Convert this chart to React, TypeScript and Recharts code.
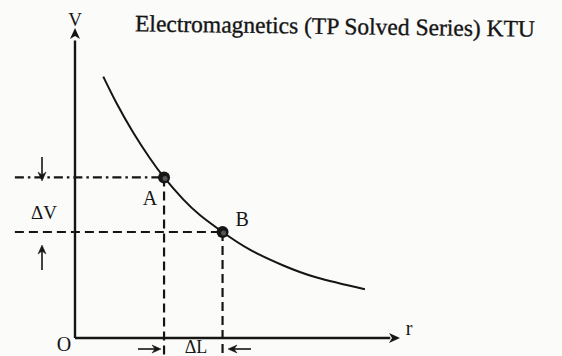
import React from "react";
import { ComposedChart, Line, XAxis, YAxis, ReferenceLine, ReferenceDot } from "recharts";

// curve V(r) (arbitrary units, r: 0..10, V: 0..10)
const curveR = [0.87, 1.28, 1.79, 2.31, 2.74, 3.33, 3.85, 4.54, 5.38, 6.41, 7.44, 8.92];
const curveV = [8.43, 7.57, 6.63, 5.79, 5.18, 4.47, 3.96, 3.42, 2.85, 2.34, 1.95, 1.57];

// marked points
const pointNames = ["A", "B"];
const pointR = [2.74, 4.54];
const pointV = [5.18, 3.42];

const title = "Electromagnetics (TP Solved Series) KTU";
const axisNames = { y: "V", x: "r", origin: "O" };
const deltaNames = { v: "ΔV", l: "ΔL" };

const data = curveR.map((r, i) => ({ r, v: curveV[i] }));

const INK = "#151515";
const FONT = "'Liberation Serif', 'DejaVu Serif', serif";

const ArrowUp = (p: any) => (
  <path d={`M${p.cx},${p.cy} L${p.cx - 5},${p.cy + 11} L${p.cx},${p.cy + 8} L${p.cx + 5},${p.cy + 11} Z`} fill={INK} />
);
const ArrowRight = (p: any) => (
  <path d={`M${p.cx},${p.cy} L${p.cx - 11},${p.cy - 5} L${p.cx - 8},${p.cy} L${p.cx - 11},${p.cy + 5} Z`} fill={INK} />
);
const BigDot = (p: any) => (
  <g>
    <circle cx={p.cx} cy={p.cy} r={6} fill={INK} />
    <circle cx={p.cx + 1} cy={p.cy + 1} r={2.5} fill="#555" />
  </g>
);

export default function App() {
  const W = 562;
  const H = 356;
  return (
    <div style={{ position: "absolute", left: 0, top: 0, width: W, height: H, background: "#fbfbfa" }}>
      <ComposedChart
        width={W}
        height={H}
        data={data}
        margin={{ top: 28, right: 162, bottom: 18, left: 75 }}
      >
        <XAxis type="number" dataKey="r" domain={[0, 10]} hide />
        <YAxis type="number" domain={[0, 10]} hide />
        {/* axes */}
        <ReferenceLine segment={[{ x: 0, y: 0 }, { x: 0, y: 9.6 }]} stroke={INK} strokeWidth={2.4} ifOverflow="visible" />
        <ReferenceLine segment={[{ x: 0, y: 0 }, { x: 9.7, y: 0 }]} stroke={INK} strokeWidth={2.4} ifOverflow="visible" />
        <ReferenceDot x={0} y={10} r={0} shape={ArrowUp} ifOverflow="visible" />
        <ReferenceDot x={10} y={0} r={0} shape={ArrowRight} ifOverflow="visible" />
        {/* guide lines */}
        <ReferenceLine
          segment={[{ x: -1.85, y: pointV[0] }, { x: pointR[0], y: pointV[0] }]}
          stroke={INK}
          strokeWidth={2.2}
          strokeDasharray="9 4 2.5 4"
          ifOverflow="visible"
        />
        <ReferenceLine
          segment={[{ x: -1.85, y: pointV[1] }, { x: pointR[1], y: pointV[1] }]}
          stroke={INK}
          strokeWidth={2.2}
          strokeDasharray="9 5"
          ifOverflow="visible"
        />
        <ReferenceLine
          segment={[{ x: pointR[0], y: pointV[0] }, { x: pointR[0], y: -0.55 }]}
          stroke={INK}
          strokeWidth={2.2}
          strokeDasharray="9 5"
          ifOverflow="visible"
        />
        <ReferenceLine
          segment={[{ x: pointR[1], y: pointV[1] }, { x: pointR[1], y: -0.6 }]}
          stroke={INK}
          strokeWidth={2.2}
          strokeDasharray="9 5"
          ifOverflow="visible"
        />
        <Line
          type="natural"
          dataKey="v"
          stroke={INK}
          strokeWidth={2}
          dot={false}
          activeDot={false}
          isAnimationActive={false}
        />
        {pointNames.map((n, i) => (
          <ReferenceDot
            key={n}
            x={pointR[i]}
            y={pointV[i]}
            r={6}
            shape={BigDot}
            ifOverflow="visible"
            label={{
              value: n,
              position: i === 0 ? "bottom" : "right",
              dx: i === 0 ? -14 : 2,
              dy: i === 0 ? 2 : -13,
              fill: INK,
              fontSize: 20,
              fontFamily: FONT,
            }}
          />
        ))}
      </ComposedChart>
      <svg width={W} height={H} style={{ position: "absolute", left: 0, top: 0, pointerEvents: "none" }}>
        <g fontFamily={FONT} fill={INK}>
          <text x={335} y={34} fontSize={23.5} textAnchor="middle" stroke={INK} strokeWidth={0.35} transform="rotate(0.8 335 28)">
            {title}
          </text>
          <text x={75} y={26} fontSize={19} textAnchor="middle">{axisNames.y}</text>
          <text x={409} y={335} fontSize={20} textAnchor="middle">{axisNames.x}</text>
          <text x={64} y={351} fontSize={20} textAnchor="middle">{axisNames.origin}</text>
          <text x={44} y={219} fontSize={19} textAnchor="middle">{deltaNames.v}</text>
          <text x={196} y={353} fontSize={18} textAnchor="middle">{deltaNames.l}</text>
        </g>
        <g stroke={INK} strokeWidth={1.6} fill={INK}>
          <line x1={42} y1={157} x2={42} y2={175} />
          <path d="M42,181 L38,172 L42,175 L46,172 Z" strokeWidth={0.5} />
          <line x1={42} y1={270} x2={42} y2={251} />
          <path d="M42,245 L38,254 L42,251 L46,254 Z" strokeWidth={0.5} />
          <line x1={138} y1={349} x2={155} y2={349} />
          <path d="M161,349 L152,345 L155,349 L152,353 Z" strokeWidth={0.5} />
          <line x1={251} y1={349} x2={234} y2={349} />
          <path d="M228,349 L237,345 L234,349 L237,353 Z" strokeWidth={0.5} />
        </g>
      </svg>
    </div>
  );
}
